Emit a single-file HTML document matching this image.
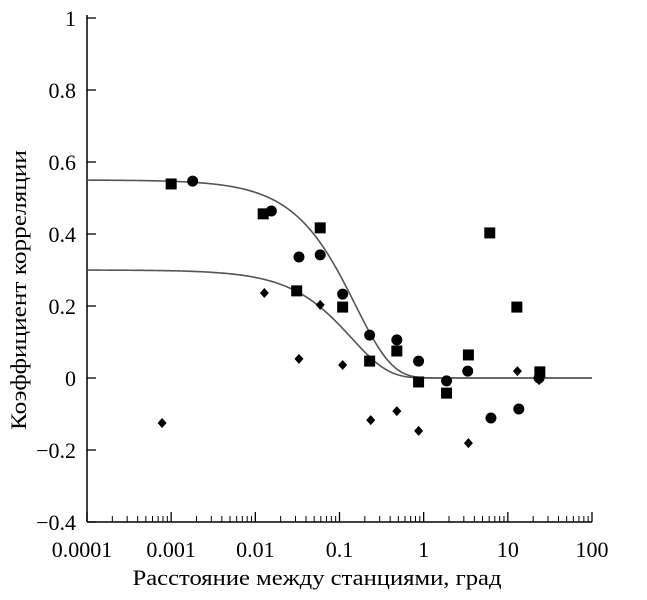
<!DOCTYPE html>
<html><head><meta charset="utf-8"><style>
html,body{margin:0;padding:0;background:#fff;}
svg{display:block;font-family:"Liberation Serif",serif;}
</style></head><body>
<svg id="chart" width="647" height="600" viewBox="0 0 647 600" xmlns="http://www.w3.org/2000/svg">
<g id="axes"></g>
<g id="curves"></g>
<g id="marks"></g>
<text x="317" y="585" font-size="22" text-anchor="middle" textLength="369" lengthAdjust="spacingAndGlyphs">Расстояние между станциями, град</text>
<text transform="translate(26,290) rotate(-90)" font-size="22" text-anchor="middle" textLength="280" lengthAdjust="spacingAndGlyphs">Коэффициент корреляции</text>
</svg>
<script>
const squareX=[0.001,0.0124,0.059,0.031,0.109,0.228,0.48,0.87,1.87,3.4,6.1,12.8,24];
const squareY=[0.539,0.456,0.417,0.242,0.197,0.047,0.075,-0.011,-0.042,0.064,0.403,0.197,0.017];
const circleX=[0.0018,0.0155,0.033,0.059,0.109,0.228,0.48,0.87,1.87,3.34,6.3,13.5,23.5];
const circleY=[0.547,0.464,0.336,0.342,0.233,0.119,0.106,0.047,-0.008,0.019,-0.111,-0.086,0];
const diamondX=[0.00078,0.0128,0.033,0.059,0.109,0.235,0.48,0.87,3.4,13.0,23.5];
const diamondY=[-0.125,0.236,0.053,0.203,0.036,-0.117,-0.092,-0.147,-0.181,0.019,-0.006];
const curvePlateau=[0.55,0.30];
const curveScale=[0.155,0.14];
const xTicks=[0.0001,0.001,0.01,0.1,1,10,100];
const xTickLabels=["0.0001","0.001","0.01","0.1","1","10","100"];
const yTicks=[1,0.8,0.6,0.4,0.2,0,-0.2,-0.4];
const yTickLabels=["1","0.8","0.6","0.4","0.2","0","\u22120.2","\u22120.4"];

const NS="http://www.w3.org/2000/svg";
const X0=87,X1=592,Y0=522,Y1=18;
function xs(v){return X0+(Math.log10(v)+4)/6*(X1-X0);}
function ys(v){return Y0-(v+0.4)/1.4*(Y0-Y1);}
function mk(tag,attrs,parent){const e=document.createElementNS(NS,tag);for(const k in attrs)e.setAttribute(k,attrs[k]);parent.appendChild(e);return e;}
const axes=document.getElementById('axes');
let l=mk('line',{x1:X0,y1:Y1-3,x2:X0,y2:Y0,stroke:'#000','stroke-width':1.5},axes);


l=mk('line',{x1:X0,y1:Y0,x2:X1,y2:Y0,stroke:'#000','stroke-width':1.5},axes);


yTicks.forEach((v,i)=>{
  const y=ys(v);
  const t=mk('line',{x1:X0,y1:y,x2:X0+9,y2:y,stroke:'#000','stroke-width':1.3},axes);
  
  
  const tx=mk('text',{x:X0-11,y:y+8,'font-size':22,'text-anchor':'end'},axes);
  tx.textContent=yTickLabels[i];
  
  
});
xTicks.forEach((v,i)=>{
  const x=xs(v);
  const t=mk('line',{x1:x,y1:Y0,x2:x,y2:Y0-10,stroke:'#000','stroke-width':1.3},axes);
  
  
  if(i<xTicks.length-1){for(let m=2;m<10;m++){const xm=xs(v*m);
    const mt=mk('line',{x1:xm,y1:Y0,x2:xm,y2:Y0-6,stroke:'#000','stroke-width':1},axes);
    
    }}
  let cx=x; if(i===0)cx=x-5;
  const tx=mk('text',{x:cx,y:557,'font-size':22,'text-anchor':'middle'},axes);
  tx.textContent=xTickLabels[i];
  
  
});
const curves=document.getElementById('curves');
curvePlateau.forEach((p,ci)=>{
  let d='';
  for(let k=0;k<=300;k++){const lx=-4+6*k/300;const v=Math.pow(10,lx);const val=p*Math.exp(-v/curveScale[ci]);d+=(k?'L':'M')+xs(v).toFixed(2)+','+ys(val).toFixed(2);}
  const c=mk('path',{d:d,fill:'none',stroke:'#555','stroke-width':1.6},curves);
  
  
});
const marks=document.getElementById('marks');
squareX.forEach((v,i)=>{const x=xs(v),y=ys(squareY[i]);
  const s=mk('rect',{x:x-5.5,y:y-5.5,width:11,height:11,fill:'#000'},marks);
  
  });
circleX.forEach((v,i)=>{const x=xs(v),y=ys(circleY[i]);
  const s=mk('circle',{cx:x,cy:y,r:5.5,fill:'#000'},marks);
  
  });
diamondX.forEach((v,i)=>{const x=xs(v),y=ys(diamondY[i]);
  const s=mk('polygon',{points:`${x},${y-5} ${x+4.5},${y} ${x},${y+5} ${x-4.5},${y}`,fill:'#000'},marks);
  
  });
</script>
</body></html>
